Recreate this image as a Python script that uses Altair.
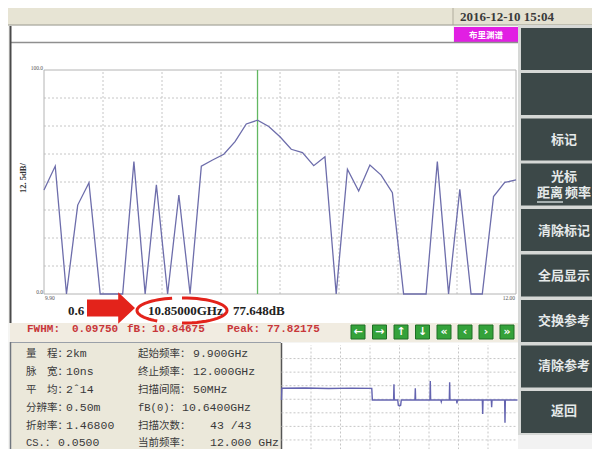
import math
import altair as alt
import pandas as pd

# ---------------- data ----------------
freq_ghz = [9.90, 9.95, 10.00, 10.05, 10.10, 10.15, 10.20, 10.25, 10.30, 10.35,
            10.40, 10.45, 10.50, 10.55, 10.60, 10.65, 10.70, 10.75, 10.80, 10.85,
            10.90, 10.95, 11.00, 11.05, 11.10, 11.15, 11.20, 11.25, 11.30, 11.35,
            11.40, 11.45, 11.50, 11.55, 11.60, 11.65, 11.70, 11.75, 11.80, 11.85,
            11.90, 11.95, 12.00]
level_db = [46.4, 57.1, 0.0, 39.7, 49.7, 0.0, 0.0, 0.0, 59.1, 0.0,
            48.7, 0.0, 44.2, 0.0, 57.1, 59.8, 62.4, 68.0, 75.9, 77.6,
            74.8, 70.2, 64.6, 63.1, 57.3, 61.3, 0.0, 55.7, 46.0, 57.6,
            53.1, 45.2, 0.0, 0.0, 0.0, 59.1, 0.0, 46.7, 0.0, 0.0,
            43.5, 49.8, 50.9]
marker_ghz = [10.85]

# lower trace (distance in m, level in divisions)
trace_pos = [0, 3, 200, 400, 600, 765, 770,
             950, 953, 956, 985, 990, 1000, 1010, 1015,
             1131, 1134, 1137, 1258, 1261, 1264, 1350, 1354, 1358,
             1422, 1425, 1428, 1483, 1487, 1491, 1702, 1705, 1708,
             1778, 1781, 1784, 1891, 1894, 1897, 2000]
trace_lvl = [3.95, 4.81, 4.83, 4.79, 4.82, 4.80, 3.95,
             3.95, 5.10, 3.95, 3.95, 3.55, 3.50, 3.55, 3.95,
             3.95, 4.81, 3.95, 3.95, 5.35, 3.95, 3.95, 3.82, 3.95,
             3.95, 5.25, 3.95, 3.95, 3.70, 3.95, 3.95, 2.91, 3.95,
             3.95, 3.41, 3.95, 3.95, 2.27, 3.95, 3.95]

y_tick_values = [100, 0]
y_tick_labels = ["100.0", "0.0"]
x_tick_values = [9.90, 12.00]
x_tick_labels = ["9.90", "12.00"]

readout = ["0.6", "10.85000GHz", "77.648dB"]
fwhm_parts = ["FWHM:", "0.09750", "fB:", "10.84675", "Peak:", "77.82175"]
info_left = [("量　程：", "2km"), ("脉　宽：", "10ns"), ("平　均：", "2ˆ14"),
             ("分辨率：", "0.50m"), ("折射率：", "1.46800"), ("CS.：", "0.0500")]
info_right = [("起始频率：", "9.900GHz"), ("终止频率：", "12.000GHz"),
              ("扫描间隔：", "50MHz"), ("fB(0)：", "10.6400GHz"),
              ("扫描次数：", "  43 /43"), ("当前频率：", "  12.000 GHz")]
nav_glyphs = ["←", "→", "↑", "↓", "«", "‹", "›", "»"]
side_buttons = ["", "", "标记", "光标", "清除标记", "全局显示", "交换参考", "清除参考", "返回"]

# ---------------- layout helpers ----------------
OX, OY = 8, 8
def px(x):
    return x - OX
def py(y):
    return y - OY

layers = []

def rect(x1, y1, x2, y2, fill, stroke=None, sw=1):
    kw = dict(fill=fill)
    if stroke:
        kw.update(stroke=stroke, strokeWidth=sw)
    else:
        kw.update(strokeWidth=0)
    layers.append(alt.Chart().mark_rect(**kw).encode(
        x=alt.value(px(x1)), x2=alt.value(px(x2)),
        y=alt.value(py(y1)), y2=alt.value(py(y2))))

def hline(x1, x2, y, color, sw=1):
    layers.append(alt.Chart().mark_rule(color=color, strokeWidth=sw).encode(
        x=alt.value(px(x1)), x2=alt.value(px(x2)), y=alt.value(py(y))))

def vline(x, y1, y2, color, sw=1):
    layers.append(alt.Chart().mark_rule(color=color, strokeWidth=sw).encode(
        x=alt.value(px(x)), y=alt.value(py(y1)), y2=alt.value(py(y2))))

def text(x, y, s, size=12, font="Liberation Mono", color="#333333",
         weight="normal", align="left", angle=0):
    kw = dict(text=s, font=font, fontSize=size, color=color, fontWeight=weight,
              align=align, baseline="middle")
    if angle:
        kw["angle"] = angle
    layers.append(alt.Chart().mark_text(**kw).encode(
        x=alt.value(px(x)), y=alt.value(py(y))))

CJK = "Noto Sans CJK SC"
SERIF = "Liberation Serif"

# ---------------- screen chrome ----------------
rect(0, 0, 600, 6, "#dde2ea")
rect(0, 6, 453, 25, "#e7e4d4")
rect(453, 6, 600, 25, "#e4e1d1")
vline(453, 6, 25, "#b0ad9e")
hline(0, 600, 25, "#9a9a90")
text(507, 16.5, "2016-12-10 15:04", size=13, font=SERIF, weight="bold",
     color="#3a3a3a", align="center")

rect(10, 26, 453, 42, "#ffffff")
rect(454, 27, 518, 42, "#e11fe3")
text(486, 34.5, "布里渊谱", size=8.5, font=CJK, color="#ffffff", weight="bold",
     align="center")
rect(10, 42, 518, 323, "#ffffff")
hline(10, 518, 42.5, "#8f8f8f", 1.5)
vline(10.5, 26, 323, "#4a4a4a", 2)

# FWHM strip
rect(10, 323, 518, 342, "#f1ece1")

# info panel & mini plot
rect(10, 342, 281, 455, "#ebe8da")
hline(10, 281, 342.5, "#9aa0a8", 1)
vline(10.5, 342, 455, "#70767e", 1.5)
hline(10, 518, 455, "#7c8796", 1.5)
rect(281, 343, 518, 455, "#ffffff")
vline(281.5, 343, 455, "#555555", 1.5)

# right button column
rect(518, 25, 600, 435, "#d6d8d6")
btn_tops = [28, 73, 118.5, 163.5, 209, 254.5, 300, 345.5, 391]
for top in btn_tops:
    rect(521, top, 600, top + 42, "#3c4848")
BTN_C = "#e6eaea"
btn_text_pos = {2: 140, 4: 231, 5: 276, 6: 321, 7: 366, 8: 411}
for i, yy in btn_text_pos.items():
    text(564, yy, side_buttons[i], size=13, font=CJK, color=BTN_C,
         weight="bold", align="center")
text(564, 177, side_buttons[3], size=13, font=CJK, color=BTN_C, weight="bold",
     align="center")
text(550, 193, "距离", size=13, font=CJK, color=BTN_C, weight="bold", align="center")
text(578, 193, "频率", size=13, font=CJK, color=BTN_C, weight="bold", align="center")
hline(537, 563, 202, "#c9d2d2", 1.5)
rect(518, 435, 600, 457, "#f2f2f2")

# ---------------- main plot ----------------
xs = alt.Scale(domain=[9.90, 12.00], range=[px(44), px(516)], nice=False, zero=False)
ys = alt.Scale(domain=[0, 100], range=[py(294), py(70)], nice=False, zero=False)

main_df = pd.DataFrame({"freq": freq_ghz, "level": level_db})
vgrid_df = pd.DataFrame({"freq": [9.90 + 0.2625 * k for k in range(1, 8)]})
hgrid_df = pd.DataFrame({"level": [12.5 * k for k in range(1, 8)]})
GRID = "#c6c6c6"

layers.append(alt.Chart(vgrid_df).mark_rule(color=GRID, strokeDash=[2, 2], strokeWidth=1).encode(
    x=alt.X("freq:Q", scale=xs, axis=None),
    y=alt.Y(datum=0, scale=ys, axis=None), y2=alt.Y2(datum=100)))
layers.append(alt.Chart(hgrid_df).mark_rule(color=GRID, strokeDash=[2, 2], strokeWidth=1).encode(
    y=alt.Y("level:Q", scale=ys, axis=None),
    x=alt.X(datum=9.90, scale=xs, axis=None), x2=alt.X2(datum=12.00)))
rect(44, 70, 516, 294, "transparent", stroke="#b4b4b4", sw=1)

layers.append(alt.Chart(pd.DataFrame({"freq": marker_ghz})).mark_rule(
    color="#62b862", strokeWidth=1.3).encode(
    x=alt.X("freq:Q", scale=xs, axis=None),
    y=alt.Y(datum=0, scale=ys, axis=None), y2=alt.Y2(datum=100)))
layers.append(alt.Chart(main_df).mark_line(color="#6d6dab", strokeWidth=1.3).encode(
    x=alt.X("freq:Q", scale=xs, axis=None),
    y=alt.Y("level:Q", scale=ys, axis=None)))

# tick labels
ytl = pd.DataFrame({"v": y_tick_values, "t": y_tick_labels})
layers.append(alt.Chart(ytl).mark_text(font=SERIF, fontSize=5.5, color="#555555",
                                        align="right", baseline="middle", dx=-1, dy=-2).encode(
    y=alt.Y("v:Q", scale=ys, axis=None), x=alt.value(px(44)), text="t:N"))
xtl = pd.DataFrame({"v": x_tick_values, "t": x_tick_labels})
layers.append(alt.Chart(xtl.iloc[[0]]).mark_text(font=SERIF, fontSize=5.5, color="#555555",
                                                 align="left", baseline="middle", dx=1).encode(
    x=alt.X("v:Q", scale=xs, axis=None), y=alt.value(py(298)), text="t:N"))
layers.append(alt.Chart(xtl.iloc[[1]]).mark_text(font=SERIF, fontSize=5.5, color="#555555",
                                                 align="right", baseline="middle", dx=-1).encode(
    x=alt.X("v:Q", scale=xs, axis=None), y=alt.value(py(297.5)), text="t:N"))
text(23, 178, "12. 5dB/", size=8.5, font=SERIF, weight="bold", color="#333333",
     align="center", angle=270)

# readout row
text(68, 311, readout[0], size=13, font=SERIF, weight="bold", color="#222222")
text(148, 311, readout[1], size=13, font=SERIF, weight="bold", color="#222222")
text(233, 311, readout[2], size=13, font=SERIF, weight="bold", color="#222222")

arrow_path = "M -1 -0.35 L 0.3 -0.35 L 0.3 -0.66 L 1 0 L 0.3 0.66 L 0.3 0.35 L -1 0.35 Z"
layers.append(alt.Chart().mark_point(shape=arrow_path, size=48 * 48, filled=True,
                                     color="#e3231b", opacity=1, strokeWidth=0).encode(
    x=alt.value(px(111)), y=alt.value(py(308))))

def arc(t0, t1, n=28, ry=0.28):
    pts = []
    for i in range(n + 1):
        t = math.radians(t0 + (t1 - t0) * i / n)
        pts.append(f"{math.cos(t):.4f} {ry * math.sin(t):.4f}")
    return "M " + " L ".join(pts)

ell_path = arc(257.3, 123.4) + " " + arc(-90, 90)
layers.append(alt.Chart().mark_point(shape=ell_path, size=90 * 90, filled=False,
                                     color="#e3231b", opacity=1, strokeWidth=3).encode(
    x=alt.value(px(182)), y=alt.value(py(310.5))))

# FWHM row
FW = "#c8373a"
fw_x = [27, 72, 127, 152, 227, 267]
for xx, s in zip(fw_x, fwhm_parts):
    text(xx, 328.5, s, size=11, font="Liberation Mono", color=FW, weight="bold")

# navigation buttons
nav_cx = [358, 379.5, 401, 422.5, 444, 465, 486, 507]
for cx, g in zip(nav_cx, nav_glyphs):
    rect(cx - 7, 325, cx + 7, 339, "#34a23a", stroke="#1f6e24", sw=1)
    text(cx, 332, g, size=11, font="DejaVu Sans", weight="bold", color="#ffffff",
         align="center")

# info panel
row_y = [354, 372, 390, 408, 425.5, 442.5]
for (lab, val), yy in zip(info_left, row_y):
    text(26, yy, lab, size=10.5, font="Liberation Mono, " + CJK, color="#3a3a3a")
    text(66 if not lab.startswith("CS") else 58, yy, val, size=11.5,
         font="Liberation Mono", color="#3a3a3a")
right_val_x = [193, 193, 193, 182, 210, 210]
for (lab, val), yy, vx in zip(info_right, row_y, right_val_x):
    text(138, yy, lab, size=10.5, font="Liberation Mono, " + CJK, color="#3a3a3a")
    text(vx, yy, val.strip(), size=11.5, font="Liberation Mono", color="#3a3a3a")

# ---------------- mini plot ----------------
xs2 = alt.Scale(domain=[0, 2000], range=[px(281.5), px(517.5)], nice=False, zero=False)
ys2 = alt.Scale(domain=[0, 8], range=[py(453.5), py(345)], nice=False, zero=False)
mv = pd.DataFrame({"pos": [250 * k for k in range(1, 8)]})
mh = pd.DataFrame({"lvl": list(range(1, 8))})
layers.append(alt.Chart(mv).mark_rule(color=GRID, strokeDash=[2, 2]).encode(
    x=alt.X("pos:Q", scale=xs2, axis=None),
    y=alt.Y(datum=0, scale=ys2, axis=None), y2=alt.Y2(datum=8)))
layers.append(alt.Chart(mh).mark_rule(color=GRID, strokeDash=[2, 2]).encode(
    y=alt.Y("lvl:Q", scale=ys2, axis=None),
    x=alt.X(datum=0, scale=xs2, axis=None), x2=alt.X2(datum=2000)))
trace_df = pd.DataFrame({"pos": trace_pos, "lvl": trace_lvl})
layers.append(alt.Chart(trace_df).mark_line(color="#6464b0", strokeWidth=1.4).encode(
    x=alt.X("pos:Q", scale=xs2, axis=None),
    y=alt.Y("lvl:Q", scale=ys2, axis=None)))

# page is 600x457 with an 8px margin: the drawing area is 584x441
chart = alt.layer(*layers, data=pd.DataFrame({"k": [0]})).resolve_scale(
    x="independent", y="independent"
).properties(
    width=584, height=441, padding=0,
    autosize=alt.AutoSizeParams(type="none"),
    background="#f5f5f3",
).configure_view(stroke="transparent")

chart.save("out.html", embed_options={"renderer": "svg", "actions": False})
